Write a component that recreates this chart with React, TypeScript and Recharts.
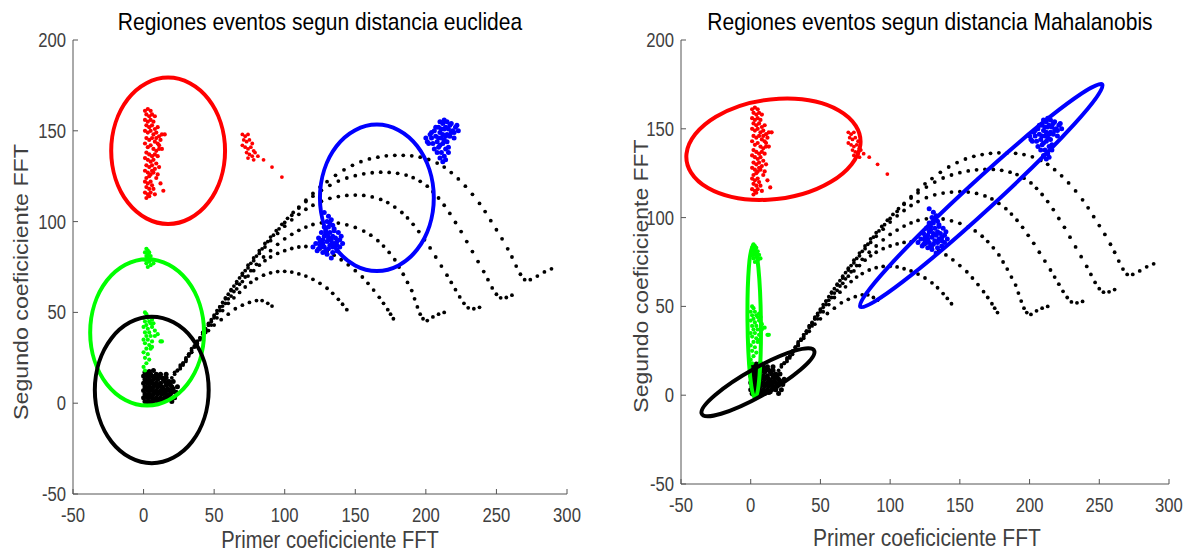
import React from "react";
import { ScatterChart, Scatter, XAxis, YAxis } from "recharts";

type Pt = { x: number; y: number };
const toPts = (arr: number[][]): Pt[] => arr.map(([x, y]) => ({ x, y }));

const X_TICKS = [-50, 0, 50, 100, 150, 200, 250, 300];
const Y_TICKS = [-50, 0, 50, 100, 150, 200];

// black trajectories (same in both panels)
const ARC_A = [[18,12],[22,16],[26,20],[30,24],[34,28],[38,32],[42,36],[46,40],[50,43],[55,46],[60,49],[65,52],[70,54],[75,55.5],[80,56.5],[84,56.5],[88,55],[91,53.5]];
const ARC_B = [[20,14],[24,18],[28,22],[32,27],[36,31],[40,35],[44,39],[48,43],[52,47],[56,51],[60,55],[64,58],[68,61],[72,64],[76,66.5],[80,68.5],[85,70.5],[90,71.8],[95,72.5],[100,72.6],[105,72.2],[110,71.2],[115,70],[120,68.2],[125,66],[130,63.3],[134,60.5],[138,57.2],[141,54.5],[144,51.5]];
const ARC_C = [[22,17],[26,21],[30,25],[34,30],[38,34],[42,39],[46,43],[50,47],[54,51],[58,55],[62,59],[66,63],[70,67],[74,70],[78,73],[82,76],[86,78.5],[90,80.5],[95,82.5],[100,84],[105,85.2],[110,86],[115,86.3],[120,86],[125,85],[130,83.5],[135,81.5],[140,79],[145,76.2],[150,73],[155,69.5],[159,66],[163,62.3],[167,58.3],[170,55],[173,51.5],[175,49],[177,46.5]];
const ARC_D = [[24,18],[28,22],[32,27],[36,31.5],[40,36],[44,40.5],[48,45],[52,49.5],[56,53.5],[60,57.5],[64,61.5],[68,65.5],[72,69.5],[76,73],[80,76.5],[85,80.5],[90,84],[95,87.5],[100,90.5],[105,93],[110,95.2],[115,97],[120,98.4],[126,99.3],[132,99.6],[138,99.2],[144,98.2],[150,96.8],[156,94.8],[161,92.5],[166,89.5],[170,86.5],[174,83],[178,79],[181,75],[184,71],[187,66.5],[190,62],[192,57.5],[194,53],[196,49],[198,46.5],[201,45.5],[205,47.5],[209,49],[213,50]];
const ARC_E = [[26,19],[30,24],[34,29],[38,34],[42,39],[46,44],[50,48.5],[54,53],[58,57.5],[62,62],[66,66],[70,70.5],[74,74.5],[78,78.5],[82,82.5],[86,86],[90,89.5],[95,93.5],[100,97.5],[105,101],[110,104],[115,106.8],[120,109],[126,111.2],[132,112.8],[138,113.8],[144,114.4],[150,114.6],[156,114.4],[162,113.6],[168,112.2],[173,110.5],[178,108],[183,105],[187,102],[191,98.5],[195,94.5],[199,90],[203,85.5],[207,80.5],[211,75.5],[215,70.5],[218,66.5],[221,62.5],[224,58.5],[227,55],[230,52.5],[234,52],[238,52.8]];
const ARC_F = [[28,21],[32,26],[36,31],[40,36],[44,41],[48,46],[52,51],[56,55.5],[60,60],[64,64.5],[68,69],[72,73],[76,77],[80,81],[84,85],[88,89],[92,92.5],[96,96],[100,99.5],[105,103.5],[110,107.5],[115,111],[120,114],[126,117.2],[132,120],[138,122.3],[144,124],[150,125.3],[156,126.3],[162,126.9],[168,127.2],[174,127.1],[180,126.6],[186,125.6],[191,124.2],[196,122.2],[201,119.5],[205,116.5],[209,113],[213,109],[217,104.5],[221,99.5],[225,94.5],[229,89],[233,83.5],[237,78],[241,72.5],[244,68],[247,63.5],[250,60],[253,58],[257,58.2],[261,59.5]];
const ARC_G = [[30,23],[34,28],[38,33],[42,38],[46,43],[50,48],[54,53],[58,58],[62,62.5],[66,67],[70,71.5],[74,76],[78,80],[82,84],[86,88],[90,91.5],[94,95],[98,98.5],[102,101.8],[106,105],[110,108],[115,111.8],[120,115.5],[125,119],[130,122],[136,125.5],[142,128.5],[148,131],[154,133],[160,134.5],[166,135.5],[172,136.2],[178,136.5],[184,136.5],[190,136.2],[196,135.5],[202,134.2],[208,132.2],[213,130],[218,127],[223,123.5],[228,119.5],[233,115],[238,110],[242,105.5],[246,100.5],[250,95.5],[254,90.5],[258,85],[261,80.5],[264,75.5],[267,71],[270,68],[274,68],[279,70],[284,72.3],[289,74]];

const BLACK_BLOB = [[1,17],[4,17.5],[7,18],[0,15],[3,15],[6,15],[9,16],[12,16],[1,13],[4,13],[7,13],[10,13],[13,14],[16,14],[0,11],[3,11],[6,11],[9,11],[12,11],[15,12],[18,12],[1,9],[4,9],[7,9],[10,9],[13,9],[16,10],[19,10],[0,7],[3,7],[6,7],[9,7],[12,7],[15,7],[18,7],[21,8],[1,5],[4,5],[7,5],[10,5],[13,5],[16,5],[19,5],[0,3],[3,3],[6,3],[9,3],[12,3],[15,3],[18,3],[1,1],[4,1],[7,1],[10,1],[13,1.5],[20,1],[22,3],[24,9],[2,16],[5,16],[8,14],[11,15],[14,13],[17,11],[20,9],[2,12],[5,12],[8,10],[11,10],[14,8],[17,8],[20,6],[2,8],[5,8],[8,6],[11,6],[14,6],[17,4],[2,4],[5,4],[8,2],[11,2],[14,2],[2,0.5],[5,0.5],[21,12],[23,6],[16,16]];

const RED_1 = [[1,161],[3,162],[5,161],[2,159],[4,158],[6,159],[1,156],[3,155],[5,156],[7,155],[2,153],[4,152],[6,153],[8,151],[1,150],[3,149],[5,150],[7,148],[9,149],[11,147],[2,146],[4,145],[6,146],[8,144],[10,143],[12,145],[1,143],[3,141],[5,142],[7,140],[9,139],[11,140],[2,138],[4,137],[6,136],[8,137],[1,135],[3,134],[5,133],[7,134],[2,131],[4,130],[6,131],[8,129],[1,128],[3,127],[5,126],[7,127],[10,126],[2,124],[4,125],[1,122],[3,121],[5,122],[2,119],[4,118],[1,116],[3,115],[5,116],[2,113],[4,114],[8,115],[12,121],[14,117],[8,158],[10,152],[13,148],[9,146],[11,142],[13,140],[10,136],[9,132],[11,130],[6,128],[9,124],[6,120],[7,118],[15,148]];
const RED_2 = [[70,148],[72,147],[74,148],[71,145],[73,144],[75,145],[77,143],[70,142],[72,141],[74,140],[76,141],[78,139],[73,138],[75,137],[77,136],[79,138],[81,136],[74,135],[78,134],[85,134],[91,130],[98,124.5]];
const GREEN = [[2,85],[3,84],[1,83],[4,83],[2,81],[3,80],[5,81],[1,79],[4,78],[6,79],[2,77],[5,76],[7,77],[3,75],[1,50],[2,49],[0,47],[3,47],[1,45],[4,45],[2,43],[5,44],[0,42],[3,41],[6,42],[1,39],[4,39],[8,40],[2,37],[5,37],[10,38],[0,35],[3,35],[6,34],[1,33],[4,32],[12,34],[13,34],[2,30],[5,30],[0,28],[3,27],[1,25],[4,24],[2,22],[0,20],[1,18],[6,46],[7,44],[8,37],[6,31],[3,82],[2,79]];
const BLUE_1 = [[203,148],[206,150],[209,152],[212,154],[215,155],[218,154],[221,152],[223,150],[200,146],[204,146],[207,147],[210,149],[213,151],[216,151],[219,150],[202,143],[205,143],[208,144],[211,146],[214,147],[217,147],[206,140],[209,141],[212,143],[215,144],[208,138],[211,138],[214,140],[210,135],[213,136],[212,133],[216,141],[220,146],[213,156],[210,155],[207,152],[211,151],[214,152],[217,153],[220,149],[222,153],[204,149],[201,144],[209,146],[212,148],[215,148],[218,149],[210,142],[213,145],[216,138],[214,134]];
const BLUE_2 = [[122,88],[125,87],[128,86],[131,85],[134,86],[137,87],[124,91],[127,90],[130,89],[133,90],[136,91],[139,90],[126,94],[129,93],[132,94],[135,95],[138,94],[128,97],[131,97],[134,98],[130,100],[133,101],[131,103],[120,86],[123,84],[127,83],[130,82],[134,83],[137,84],[141,88],[140,92],[126,86],[125,89],[128,92],[131,91],[134,92],[137,89],[129,95],[132,99],[135,96],[127,88],[132,87],[135,88],[129,84],[139,86],[124,85],[133,80],[128,105]];

// region outlines (control points, closed curve)
const EU_RED = [[62.1,139],[49,170.6],[17.4,183.7],[-14.2,170.6],[-27.3,139],[-14.2,107.4],[17.4,94.3],[49,107.4]];
const EU_GREEN = [[47.2,39],[34.1,70.6],[2.5,83.7],[-29.1,70.6],[-42.2,39],[-29.1,7.4],[2.5,-5.7],[34.1,7.4]];
const EU_BLACK = [[50.5,7.3],[37.4,38.9],[5.8,52],[-25.8,38.9],[-38.9,7.3],[-25.8,-24.3],[5.8,-37.4],[37.4,-24.3]];
const EU_BLUE = [[210,113.1],[196.9,144.7],[165.3,157.8],[133.7,144.7],[120.6,113.1],[133.7,81.5],[165.3,68.4],[196.9,81.5]];

const MA_RED = [[85.4,141.3],[68.3,162.7],[20.7,170.0],[-29.4,158.8],[-52.8,135.7],[-35.7,114.3],[11.9,107.0],[62.0,118.2]];
const MA_GREEN = [[7.82,41.5],[5.79,75.3],[1.83,89.3],[-1.74,75.3],[-2.82,41.5],[-0.79,7.7],[3.17,-6.3],[6.74,7.7]];
const MA_BLACK = [[50.0,26.8],[34.5,27.0],[1.9,15.6],[-28.8,-0.6],[-39.6,-12.2],[-24.1,-12.4],[8.5,-1.0],[39.2,15.2]];
const MA_BLUE = [[261.5,181.8],[227.3,166.0],[156.9,118.7],[91.4,67.8],[69.2,43.0],[103.3,58.8],[173.7,106.1],[239.3,157.0]];

const ARCS = [ARC_A, ARC_B, ARC_C, ARC_D, ARC_E, ARC_F, ARC_G];

const FONT = '"Liberation Sans", Arial, sans-serif';
const AXIS = "#555";
const TXT = "#404040";
const SQ = 0.855; // horizontal squeeze of the original picture's text

const dot = (r: number, fill: string) => (p: any) => (
  <circle cx={p.cx} cy={p.cy} r={r} fill={fill} />
);
const none = () => <g />;

const XTick = (p: any) => (
  <text x={p.x / SQ} y={p.y} dy="0.71em" transform={`scale(${SQ} 1)`} textAnchor="middle"
    fill={TXT} fontSize={19.5} fontFamily={FONT}>{p.payload.value}</text>
);
const YTick = (p: any) => (
  <text x={p.x / SQ} y={p.y} dy="0.355em" transform={`scale(${SQ} 1)`} textAnchor="end"
    fill={TXT} fontSize={19.5} fontFamily={FONT}>{p.payload.value}</text>
);

function Panel({ width, margin, outlines }: { width: number; margin: any; outlines: [number[][], string][] }) {
  return (
    <ScatterChart width={width} height={553} margin={margin}>
      <XAxis type="number" dataKey="x" domain={[-50, 300]} ticks={X_TICKS} allowDataOverflow
        height={30} stroke={AXIS} tickSize={-5} tickMargin={19} tick={<XTick />} />
      <YAxis type="number" dataKey="y" domain={[-50, 200]} ticks={Y_TICKS} allowDataOverflow
        width={50} stroke={AXIS} tickSize={-5} tickMargin={12} tick={<YTick />} />
      {ARCS.map((a, i) => (
        <Scatter key={"arc" + i} data={toPts(a)} shape={dot(1.9, "#000")} isAnimationActive={false} />
      ))}
      <Scatter data={toPts(BLACK_BLOB)} shape={dot(2.5, "#000")} isAnimationActive={false} />
      <Scatter data={toPts(RED_1)} shape={dot(2.1, "#ff0000")} isAnimationActive={false} />
      <Scatter data={toPts(RED_2)} shape={dot(1.9, "#ff0000")} isAnimationActive={false} />
      <Scatter data={toPts(GREEN)} shape={dot(2.1, "#00ff00")} isAnimationActive={false} />
      <Scatter data={toPts(BLUE_1)} shape={dot(2.5, "#0000ff")} isAnimationActive={false} />
      <Scatter data={toPts(BLUE_2)} shape={dot(2.5, "#0000ff")} isAnimationActive={false} />
      {outlines.map(([pts, color], i) => (
        <Scatter key={"ol" + i} data={toPts(pts)} shape={none}
          line={{ stroke: color, strokeWidth: 4, fill: "none" }}
          lineJointType="basisClosed" isAnimationActive={false} />
      ))}
    </ScatterChart>
  );
}

function HText({ cx, base, size, color, children }: any) {
  return (
    <text x={cx / SQ} y={base} transform={`scale(${SQ} 1)`} textAnchor="middle"
      fontSize={size} fill={color} fontFamily={FONT}>{children}</text>
  );
}
function VText({ bx, cy, size, children }: any) {
  return (
    <text transform={`translate(${bx} ${cy}) rotate(-90) scale(1 ${SQ})`} textAnchor="middle"
      fontSize={size} fill={TXT} fontFamily={FONT}>{children}</text>
  );
}

export default function App() {
  return (
    <div style={{ position: "absolute", left: 0, top: 0, width: 1193, height: 553, background: "#fff", overflow: "hidden" }}>
      <div style={{ position: "absolute", left: 0, top: 0 }}>
        <Panel width={600} margin={{ top: 40, right: 33, bottom: 29, left: 23 }}
          outlines={[[EU_RED, "#ff0000"], [EU_GREEN, "#00ff00"], [EU_BLACK, "#000"], [EU_BLUE, "#0000ff"]]} />
      </div>
      <div style={{ position: "absolute", left: 600, top: 0 }}>
        <Panel width={593} margin={{ top: 40, right: 24, bottom: 39, left: 31 }}
          outlines={[[MA_RED, "#ff0000"], [MA_GREEN, "#00ff00"], [MA_BLACK, "#000"], [MA_BLUE, "#0000ff"]]} />
      </div>
      <svg width={1193} height={553} style={{ position: "absolute", left: 0, top: 0, pointerEvents: "none" }}>
        <HText cx={930} base={30} size={24.6} color="#000">Regiones eventos segun distancia Mahalanobis</HText>
        <HText cx={320} base={30} size={24.6} color="#000">Regiones eventos segun distancia euclidea</HText>
        <HText cx={330} base={547.8} size={23.5} color={TXT}>Primer coeficiciente FFT</HText>
        <HText cx={927} base={546} size={24.6} color={TXT}>Primer coeficiciente FFT</HText>
        <VText bx={28} cy={282} size={23.2}>Segundo coeficiciente FFT</VText>
        <VText bx={648} cy={276} size={23}>Segundo coeficiciente FFT</VText>
      </svg>
    </div>
  );
}
